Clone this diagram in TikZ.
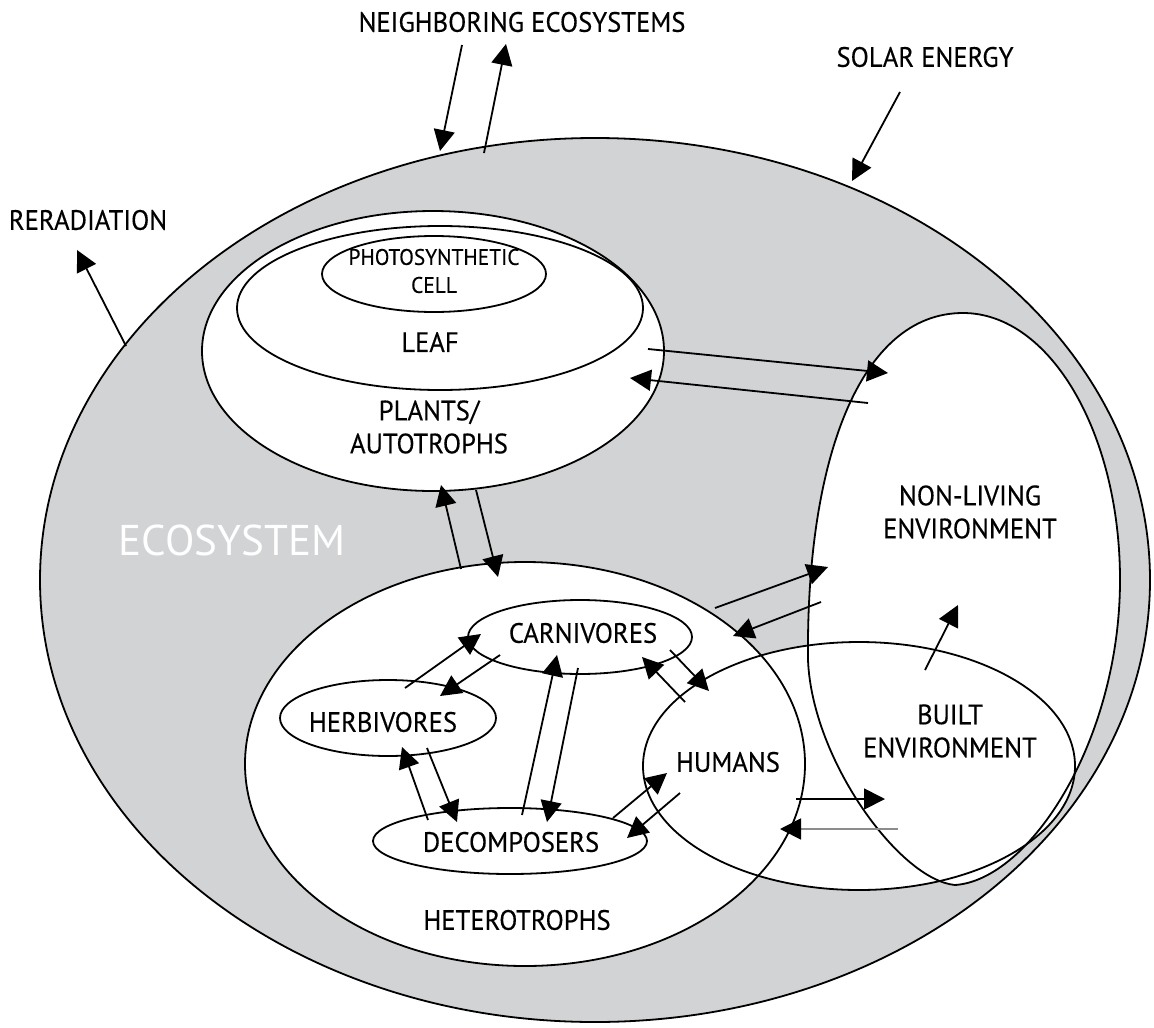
\documentclass[tikz,border=0pt]{standalone}
\usepackage{fontspec}
\setmainfont{PT Sans}[FakeStretch=0.95,FakeBold=0.3]
\newfontfamily\ecofont{PT Sans}
\usetikzlibrary{arrows.meta,shapes.geometric}
\definecolor{ecogray}{RGB}{209,211,212}

\begin{document}
\begin{tikzpicture}[x=1pt,y=-1pt,
  outline/.style={draw=black,line width=1.8pt},
  oval/.style={ellipse,inner sep=0pt,outer sep=0pt},
  ecoshape/.style={oval,minimum width=1110pt,minimum height=884pt},
  plantshape/.style={oval,minimum width=462pt,minimum height=280pt},
  leafshape/.style={oval,minimum width=406pt,minimum height=164pt},
  cellshape/.style={oval,minimum width=224pt,minimum height=76pt},
  hetshape/.style={oval,minimum width=560pt,minimum height=404pt},
  builtshape/.style={oval,minimum width=432pt,minimum height=248pt},
  carnshape/.style={oval,minimum width=224pt,minimum height=74pt},
  herbshape/.style={oval,minimum width=216pt,minimum height=76pt},
  decshape/.style={oval,minimum width=274pt,minimum height=66pt},
  flow/.style={line width=1.8pt,-{Triangle[length=21pt,width=21pt]}},
  lbl/.style={inner sep=0pt,align=center,font=\fontsize{28}{33}\selectfont},
  smalllbl/.style={inner sep=0pt,align=center,font=\fontsize{22.5}{28}\selectfont},
]
\useasboundingbox (0,0) rectangle (1154,1028);

% region centres
\coordinate (cEco)   at (595,580);
\coordinate (cPlant) at (433,351);
\coordinate (cLeaf)  at (440,308);
\coordinate (cCell)  at (434,274);
\coordinate (cHet)   at (525,764);
\coordinate (cBuilt) at (859,766);
\coordinate (cCarn)  at (580,637);
\coordinate (cHerb)  at (388,718);
\coordinate (cDec)   at (510,841);

% corner points of the non-living environment outline
\coordinate (nTop)   at (963,313);
\coordinate (nRight) at (1120,580);
\coordinate (nBot)   at (955,885);
\coordinate (nLeft)  at (808,660);

% ecosystem
\node[ecoshape,outline,fill=ecogray] (eco) at (cEco) {};
% built environment interior first, its rim comes last
\node[builtshape,fill=white] (builtfill) at (cBuilt) {};
% plants with leaf and cell
\node[plantshape,outline,fill=white] (plants) at (cPlant) {};
\node[leafshape,outline,fill=white] (leaf) at (cLeaf) {};
\node[cellshape,outline,fill=white] (cell) at (cCell) {};
% non-living environment
\draw[outline,fill=white] (nTop)
  .. controls (1050,313) and (1120,433) .. (nRight)
  .. controls (1120,740) and (1030,880) .. (nBot)
  .. controls (900,880) and (812,760) .. (nLeft)
  .. controls (806,460) and (860,313) .. (nTop) -- cycle;
% heterotrophs
\node[hetshape,outline,fill=white] (het) at (cHet) {};
% built environment rim
\node[builtshape,outline] (built) at (cBuilt) {};
% consumers
\node[carnshape,outline] (carn) at (cCarn) {};
\node[herbshape,outline] (herb) at (cHerb) {};
\node[decshape,outline] (dec) at (cDec) {};

% labels
\node[lbl] (tNeigh) at (522,22) {NEIGHBORING ECOSYSTEMS};
\node[lbl] (tSolar) at (925,57) {SOLAR ENERGY};
\node[lbl] (tRerad) at (88,220) {RERADIATION};
\node[smalllbl] (tCell) at (434,271) {PHOTOSYNTHETIC\\CELL};
\node[lbl] (tLeaf) at (430,342) {LEAF};
\node[lbl] (tPlant) at (429,427) {PLANTS/\\AUTOTROPHS};
\node[inner sep=0pt,text=white,font=\ecofont\fontsize{43}{50}\selectfont] (tEco) at (232,540) {ECOSYSTEM};
\node[lbl] (tNonliv) at (970,512) {NON-LIVING\\ENVIRONMENT};
\node[lbl] (tCarn) at (583,633) {CARNIVORES};
\node[lbl] (tHerb) at (383,722) {HERBIVORES};
\node[lbl] (tDec) at (511,842) {DECOMPOSERS};
\node[lbl] (tHet) at (517,920) {HETEROTROPHS};
\node[lbl] (tHum) at (728,762) {HUMANS};
\node[lbl] (tBuilt) at (950,731) {BUILT\\ENVIRONMENT};

% arrow end points
\coordinate (a1s) at (462,45);  \coordinate (a1e) at (440,151);
\coordinate (a2s) at (484,153); \coordinate (a2e) at (506,44);
\coordinate (a3s) at (900,92);  \coordinate (a3e) at (852,181);
\coordinate (a4s) at (126,346); \coordinate (a4e) at (77,250);
\coordinate (a5s) at (648,349); \coordinate (a5e) at (888,373);
\coordinate (a6s) at (868,403); \coordinate (a6e) at (630,378);
\coordinate (a7s) at (461,569); \coordinate (a7e) at (441,485);
\coordinate (a8s) at (476,490); \coordinate (a8e) at (498,577);
\coordinate (a9s) at (715,608); \coordinate (a9e) at (828,567);
\coordinate (a10s) at (821,602); \coordinate (a10e) at (733,636);
\coordinate (a11s) at (925,670); \coordinate (a11e) at (958,605);
\coordinate (a12s) at (405,688); \coordinate (a12e) at (481,634);
\coordinate (a13s) at (500,655); \coordinate (a13e) at (440,696);
\coordinate (a14s) at (522,815); \coordinate (a14e) at (557,655);
\coordinate (a15s) at (578,668); \coordinate (a15e) at (547,822);
\coordinate (a16s) at (428,820); \coordinate (a16e) at (402,747);
\coordinate (a17s) at (427,748); \coordinate (a17e) at (457,822);
\coordinate (a18s) at (613,818); \coordinate (a18e) at (667,773);
\coordinate (a19s) at (680,793); \coordinate (a19e) at (627,838);
\coordinate (a20s) at (670,650); \coordinate (a20e) at (709,691);
\coordinate (a21s) at (685,702); \coordinate (a21e) at (642,657);
\coordinate (a22s) at (796,799); \coordinate (a22e) at (885,799);
\coordinate (a23s) at (898,829); \coordinate (a23e) at (780,829);

% exchanges
\draw[flow] (a1s) -- (a1e);
\draw[flow] (a2s) -- (a2e);
\draw[flow] (a3s) -- (a3e);
\draw[flow] (a4s) -- (a4e);
\draw[flow] (a5s) -- (a5e);
\draw[flow] (a6s) -- (a6e);
\draw[flow] (a7s) -- (a7e);
\draw[flow] (a8s) -- (a8e);
\draw[flow] (a9s) -- (a9e);
\draw[flow] (a10s) -- (a10e);
\draw[flow] (a11s) -- (a11e);
\draw[flow] (a12s) -- (a12e);
\draw[flow] (a13s) -- (a13e);
\draw[flow] (a14s) -- (a14e);
\draw[flow] (a15s) -- (a15e);
\draw[flow] (a16s) -- (a16e);
\draw[flow] (a17s) -- (a17e);
\draw[flow] (a18s) -- (a18e);
\draw[flow] (a19s) -- (a19e);
\draw[flow] (a20s) -- (a20e);
\draw[flow] (a21s) -- (a21e);
\draw[flow] (a22s) -- (a22e);
\draw[flow,draw=black!45,-{Triangle[length=21pt,width=21pt,color=black]}] (a23s) -- (a23e);
\end{tikzpicture}
\end{document}
